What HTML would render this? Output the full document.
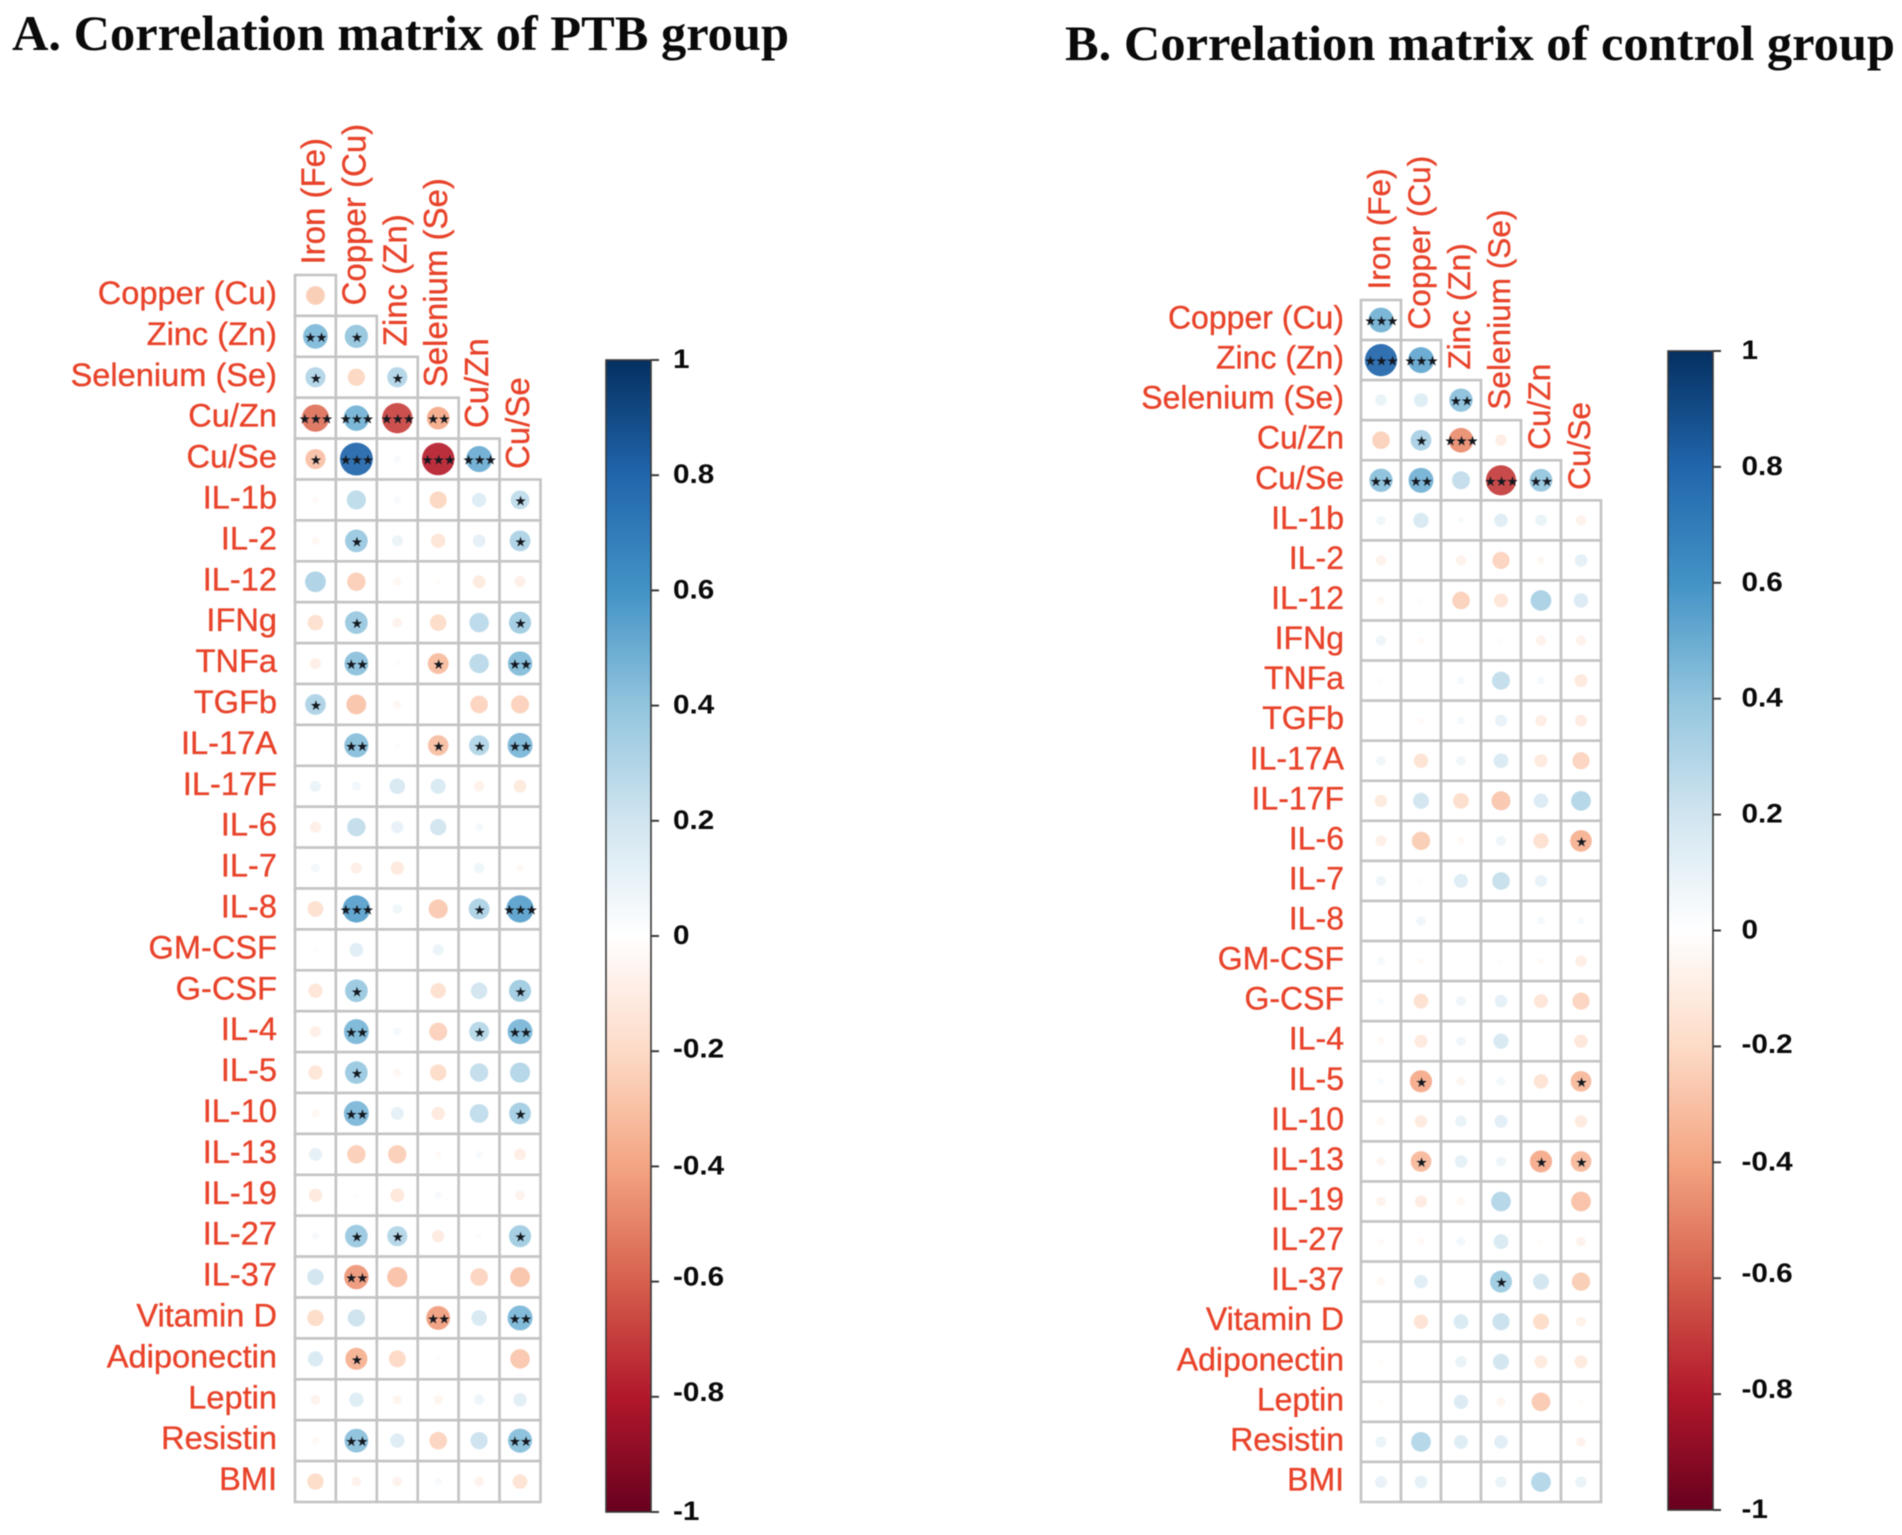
<!DOCTYPE html>
<html lang="en">
<head>
<meta charset="utf-8">
<title>Correlation matrices of PTB and control groups</title>
<style>
html,body{margin:0;padding:0;background:#fff;width:1902px;height:1535px;overflow:hidden}
svg{display:block;filter:blur(0.6px)}
.ttl{font-family:"Liberation Serif",serif;font-weight:700;font-size:50px;fill:#0a0a0a}
.lab{font-family:"Liberation Sans",sans-serif;fill:#e8432a;stroke:#e8432a;stroke-width:0.35}
.tick{font-family:"Liberation Sans",sans-serif;font-weight:700;font-size:27px;fill:#0a0a0a}
.star{font-family:"DejaVu Sans",sans-serif;font-size:13.5px;fill:#14181f;text-anchor:middle;letter-spacing:-1px}
</style>
</head>
<body>
<svg id="chart" xmlns="http://www.w3.org/2000/svg" width="1902" height="1535" viewBox="0 0 1902 1535">
<defs>
<linearGradient id="rdbu" x1="0" y1="0" x2="0" y2="1">
<stop offset="0" stop-color="#053061"/><stop offset="0.1" stop-color="#2166AC"/><stop offset="0.2" stop-color="#4393C6"/><stop offset="0.3" stop-color="#92C5DE"/><stop offset="0.4" stop-color="#D1E5F0"/><stop offset="0.5" stop-color="#FFFFFF"/><stop offset="0.6" stop-color="#FDDBC7"/><stop offset="0.7" stop-color="#F4A582"/><stop offset="0.8" stop-color="#D6604D"/><stop offset="0.9" stop-color="#B2182B"/><stop offset="1" stop-color="#67001F"/>
</linearGradient>
</defs>
<rect width="1902" height="1535" fill="#fff"/>
<text class="ttl" x="12" y="50" textLength="777" lengthAdjust="spacingAndGlyphs">A. Correlation matrix of PTB group</text>
<text class="ttl" x="1065" y="60" textLength="830" lengthAdjust="spacingAndGlyphs">B. Correlation matrix of control group</text>
</svg>
<script>
const rowLabels = ["Copper (Cu)","Zinc (Zn)","Selenium (Se)","Cu/Zn","Cu/Se","IL-1b","IL-2","IL-12","IFNg","TNFa","TGFb","IL-17A","IL-17F","IL-6","IL-7","IL-8","GM-CSF","G-CSF","IL-4","IL-5","IL-10","IL-13","IL-19","IL-27","IL-37","Vitamin D","Adiponectin","Leptin","Resistin","BMI"];
const colLabels = ["Iron (Fe)","Copper (Cu)","Zinc (Zn)","Selenium (Se)","Cu/Zn","Cu/Se"];
const colorbarTicks = [1,0.8,0.6,0.4,0.2,0,-0.2,-0.4,-0.6,-0.8,-1];

const ptbValues = [
[-0.26],
[0.45,0.4],
[0.3,-0.22,0.3],
[-0.55,0.48,-0.68,-0.38],
[-0.3,0.8,0.04,-0.78,0.5],
[-0.03,0.27,0.04,-0.22,0.15,0.26],
[-0.05,0.38,0.09,-0.15,0.12,0.32],
[0.32,-0.25,-0.05,-0.02,-0.12,-0.09],
[-0.18,0.38,-0.07,-0.2,0.28,0.36],
[-0.09,0.42,-0.02,-0.32,0.28,0.44],
[0.32,-0.29,-0.05,0,-0.23,-0.24],
[0,0.43,0.02,-0.31,0.3,0.46],
[0.09,0.06,0.18,0.17,-0.08,-0.12],
[-0.09,0.25,0.11,0.2,0.05,0],
[0.06,-0.09,-0.13,0,0.08,-0.04],
[-0.18,0.55,0.07,-0.27,0.32,0.55],
[0.02,0.14,-0.01,0.09,0,0],
[-0.15,0.38,0,-0.17,0.2,0.36],
[-0.09,0.46,0.05,-0.24,0.29,0.46],
[-0.15,0.38,-0.05,-0.2,0.25,0.3],
[-0.05,0.46,0.12,-0.13,0.26,0.35],
[0.12,-0.25,-0.25,-0.03,0.04,-0.1],
[-0.13,0.02,-0.14,0.04,-0.01,-0.07],
[0.04,0.38,0.3,-0.11,0.02,0.36],
[0.2,-0.44,-0.3,0.01,-0.23,-0.29],
[-0.2,0.22,0.01,-0.42,0.18,0.46],
[0.17,-0.36,-0.21,-0.02,0.01,-0.28],
[-0.07,0.15,-0.06,-0.06,0.08,0.13],
[-0.04,0.42,0.15,-0.23,0.22,0.43],
[-0.2,-0.07,-0.07,0.04,-0.07,-0.16]
];
const ptbStars = [
[0],
[2,1],
[1,0,1],
[3,3,3,2],
[1,3,0,3,3],
[0,0,0,0,0,1],
[0,1,0,0,0,1],
[0,0,0,0,0,0],
[0,1,0,0,0,1],
[0,2,0,1,0,2],
[1,0,0,0,0,0],
[0,2,0,1,1,2],
[0,0,0,0,0,0],
[0,0,0,0,0,0],
[0,0,0,0,0,0],
[0,3,0,0,1,3],
[0,0,0,0,0,0],
[0,1,0,0,0,1],
[0,2,0,0,1,2],
[0,1,0,0,0,0],
[0,2,0,0,0,1],
[0,0,0,0,0,0],
[0,0,0,0,0,0],
[0,1,1,0,0,1],
[0,2,0,0,0,0],
[0,0,0,2,0,2],
[0,1,0,0,0,0],
[0,0,0,0,0,0],
[0,2,0,0,0,2],
[0,0,0,0,0,0]
];
const controlValues = [
[0.48],
[0.8,0.52],
[0.1,0.15,0.42],
[-0.24,0.33,-0.47,-0.1],
[0.42,0.48,0.25,-0.7,0.4],
[0.07,0.18,0.03,0.14,0.1,-0.08],
[-0.08,0,-0.08,-0.23,-0.05,0.12],
[-0.05,0.02,-0.24,-0.15,0.33,0.16],
[0.08,-0.03,-0.01,-0.02,-0.08,-0.08],
[-0.02,-0.01,0.05,0.25,0.05,-0.13],
[-0.01,-0.03,0.05,0.11,-0.1,-0.11],
[0.07,-0.16,0.07,0.17,-0.13,-0.23],
[-0.12,0.2,-0.19,-0.28,0.16,0.3],
[-0.09,-0.26,-0.04,0.08,-0.18,-0.36],
[0.08,0.02,0.15,0.24,0.11,-0.01],
[-0.01,0.07,0,0,0.05,0.04],
[0.05,-0.03,0,-0.02,-0.03,-0.1],
[0.03,-0.17,0.08,0.12,-0.15,-0.23],
[-0.04,-0.13,0.07,0.18,0,-0.14],
[0.03,-0.38,-0.06,0.06,-0.16,-0.33],
[-0.05,-0.12,0.1,0.13,-0.01,-0.12],
[-0.06,-0.33,0.12,0.08,-0.38,-0.33],
[-0.07,-0.11,-0.05,0.3,0.01,-0.3],
[-0.03,-0.04,0.06,0.17,-0.02,-0.07],
[-0.05,0.14,0,0.37,0.2,-0.26],
[0,-0.16,0.17,0.23,-0.2,-0.08],
[-0.02,0,0.1,0.2,-0.13,-0.13],
[-0.02,0,0.16,-0.06,-0.27,-0.02],
[0.09,0.3,0.15,0.14,0.01,-0.07],
[0.11,0.12,0.01,0.1,0.3,0.1]
];
const controlStars = [
[3],
[3,3],
[0,0,2],
[0,1,3,0],
[2,2,0,3,2],
[0,0,0,0,0,0],
[0,0,0,0,0,0],
[0,0,0,0,0,0],
[0,0,0,0,0,0],
[0,0,0,0,0,0],
[0,0,0,0,0,0],
[0,0,0,0,0,0],
[0,0,0,0,0,0],
[0,0,0,0,0,1],
[0,0,0,0,0,0],
[0,0,0,0,0,0],
[0,0,0,0,0,0],
[0,0,0,0,0,0],
[0,0,0,0,0,0],
[0,1,0,0,0,1],
[0,0,0,0,0,0],
[0,1,0,0,1,1],
[0,0,0,0,0,0],
[0,0,0,0,0,0],
[0,0,0,1,0,0],
[0,0,0,0,0,0],
[0,0,0,0,0,0],
[0,0,0,0,0,0],
[0,0,0,0,0,0],
[0,0,0,0,0,0]
];

const NS = "http://www.w3.org/2000/svg";
const svg = document.getElementById("chart");
const palette = ["#67001F","#B2182B","#D6604D","#F4A582","#FDDBC7","#FFFFFF","#D1E5F0","#92C5DE","#4393C6","#2166AC","#053061"];

function colorFor(v){
  const t = Math.max(0, Math.min(0.99999, (v + 1) / 2)) * (palette.length - 1);
  const i = Math.floor(t), f = t - i;
  const a = parseInt(palette[i].slice(1), 16), b = parseInt(palette[i + 1].slice(1), 16);
  const mix = s => Math.round(((a >> s) & 255) * (1 - f) + ((b >> s) & 255) * f);
  return "rgb(" + mix(16) + "," + mix(8) + "," + mix(0) + ")";
}
function make(tag, attrs, parent){
  const el = document.createElementNS(NS, tag);
  for (const k in attrs) el.setAttribute(k, attrs[k]);
  parent.appendChild(el);
  return el;
}
function tickLabelOffset(v){
  if (v === -0.6 || v === -0.8) return 4;
  if (v === -0.2) return 6.5;
  return 8;
}

function drawMatrix(panel, values, stars){
  const g = make("g", {}, svg);
  
  
  const cw = (panel.right - panel.left) / colLabels.length;
  const ch = (panel.bottom - panel.top) / rowLabels.length;
  const xScale = c => panel.left + cw * (c + 0.5);
  const yScale = r => panel.top + ch * (r + 0.5);
  const sizeScale = v => 0.45 * Math.sqrt(Math.abs(v)) * Math.min(cw, ch);

  rowLabels.forEach(function(label, r){
    const t = make("text", {class: "lab", x: panel.labelRight, y: yScale(r) + 8.5, "text-anchor": "end", "font-size": panel.rowFont}, g);
    t.textContent = label;
    
    
  });
  colLabels.forEach(function(label, c){
    const px = xScale(c) + 9, py = panel.top + ch * c - 10.5;
    const t = make("text", {class: "lab", x: 0, y: 0, "font-size": panel.colFont, transform: "translate(" + px + "," + py + ") rotate(-90)"}, g);
    t.textContent = label;
    
    
  });
  values.forEach(function(row, r){
    row.forEach(function(v, c){
      const cell = make("rect", {x: panel.left + cw * c, y: panel.top + ch * r, width: cw, height: ch, fill: "#fff", stroke: "#c4c4c4", "stroke-width": 2.6}, g);
      
      
    });
  });
  values.forEach(function(row, r){
    row.forEach(function(v, c){
      const dot = make("circle", {cx: xScale(c), cy: yScale(r), r: sizeScale(v), fill: colorFor(v), "fill-opacity": 0.93}, g);
      
      
      const n = stars[r][c];
      if (n > 0) {
        const s = make("text", {class: "star", x: xScale(c), y: yScale(r) + 5.5}, g);
        s.textContent = "★".repeat(n);
        
        
      }
    });
  });
}

function drawColorbar(bar){
  const g = make("g", {}, svg);
  
  
  const ramp = make("rect", {x: bar.x, y: bar.top, width: bar.w, height: bar.bottom - bar.top, fill: "url(#rdbu)", stroke: "#3a3a3a", "stroke-width": 1.6}, g);
  
  
  const yScale = v => bar.top + (1 - v) / 2 * (bar.bottom - bar.top);
  colorbarTicks.forEach(function(v){
    const y = yScale(v);
    const tick = make("line", {x1: bar.x + bar.w, x2: bar.x + bar.w + 8, y1: y, y2: y, stroke: "#3a3a3a", "stroke-width": 2}, g);
    
    
    const t = make("text", {class: "tick", x: 0, y: 0, transform: "translate(" + bar.labelX + "," + (y + tickLabelOffset(v)) + ") scale(1.1,1)"}, g);
    t.textContent = String(v);
    
    
  });
}

drawMatrix({name: "ptb", left: 295, right: 540.5, top: 275, bottom: 1502, labelRight: 277, rowFont: 32.6, colFont: 33}, ptbValues, ptbStars);
drawMatrix({name: "control", left: 1361, right: 1601, top: 300, bottom: 1502, labelRight: 1344, rowFont: 32, colFont: 31.6}, controlValues, controlStars);
drawColorbar({name: "ptb", x: 606, w: 45, top: 360, bottom: 1512, labelX: 673});
drawColorbar({name: "control", x: 1668, w: 45, top: 351, bottom: 1510, labelX: 1741.5});
</script>
</body>
</html>
